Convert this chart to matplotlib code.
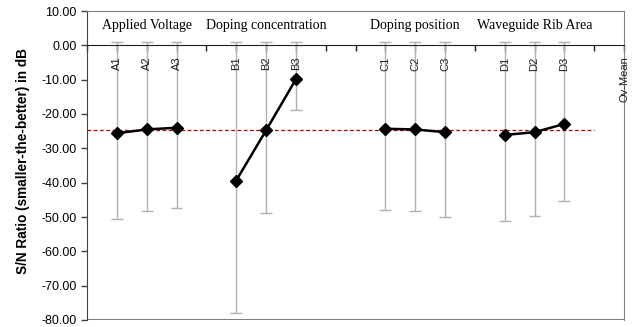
import matplotlib
matplotlib.use('Agg')
import matplotlib.pyplot as plt

plt.rcParams['font.family'] = ['Liberation Sans', 'DejaVu Sans']

# category positions on the x axis (blank slots between groups)
cats = ['A1', 'A2', 'A3', 'B1', 'B2', 'B3', 'C1', 'C2', 'C3', 'D1', 'D2', 'D3', 'Ov-Mean']
pos = [0, 1, 2, 4, 5, 6, 9, 10, 11, 13, 14, 15, 17]

groups = ['Applied Voltage', 'Doping concentration', 'Doping position', 'Waveguide Rib Area']
group_pos = [1, 5, 10, 14]

sn = [-25.6, -24.5, -24.0, -39.4, -24.8, -9.9, -24.3, -24.5, -25.3, -26.1, -25.3, -22.9]
err_top = [1.0] * 12
err_low = [-50.7, -48.3, -47.5, -78.1, -48.8, -18.8, -48.0, -48.3, -50.1, -51.2, -49.7, -45.4]
ov_mean = -24.8

fig = plt.figure(figsize=(6.38, 3.27), dpi=100)
ax = fig.add_axes([87/638, 1-320/327, (624-87)/638, (320-11)/327])

# error bars (gray)
ax.vlines(pos[:12], err_low, err_top, color='#b0b0b0', lw=1, zorder=2)
ax.hlines(err_top, [p-0.2 for p in pos[:12]], [p+0.2 for p in pos[:12]], color='#b0b0b0', lw=1, zorder=2)
ax.hlines(err_low, [p-0.2 for p in pos[:12]], [p+0.2 for p in pos[:12]], color='#b0b0b0', lw=1, zorder=2)

# mean line
ax.hlines(ov_mean, -1, 16, color='#c00000', lw=0.9, linestyles=(0, (3, 2)), zorder=3)

# group lines
for g in range(4):
    xs = pos[g*3:g*3+3]
    ys = sn[g*3:g*3+3]
    ax.plot(xs, ys, color='black', lw=1.8, marker='D', ms=6, zorder=4)

for gp, gname in zip(group_pos, groups):
    ax.text(gp, 5.7, gname, ha='center', va='center', fontsize=10,
            family=['Liberation Serif', 'DejaVu Serif'])

ax.set_xlim(-1, 17)
ax.set_ylim(-80, 10)
ax.set_yticks(range(-80, 11, 10))
ax.set_yticklabels(['%.2f' % v for v in range(-80, 11, 10)], fontsize=9)

ax.spines['bottom'].set_position(('data', 0))
ax.spines['bottom'].set_color('#202020')
ax.spines['top'].set_color('#808080')
ax.spines['right'].set_color('#808080')
ax.spines['left'].set_color('#404040')
ax.axhline(-80, color='#808080', lw=1.5, zorder=1)

ax.set_xticks(range(-1, 18))
ax.set_xticklabels([''] * 19)
ax.tick_params(axis='x', direction='out', length=4, width=1, color='#202020')
ax.tick_params(axis='y', direction='out', length=4, width=1, color='#404040')
for p, c in zip(pos, cats):
    ax.annotate(c, (p, 0), xytext=(0, -8), textcoords='offset points',
                rotation=90, ha='center', va='top', fontsize=8, color='#202020')

ax.set_ylabel('S/N Ratio (smaller-the-better) in dB', fontsize=9.8, fontweight='bold')
ax.yaxis.set_label_coords(-0.106, 0.515)

fig.savefig('out.png', dpi=100)
